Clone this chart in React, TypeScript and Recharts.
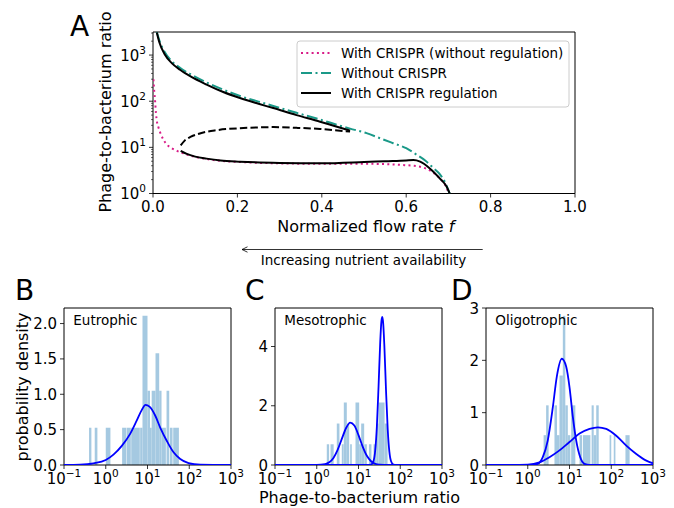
import React from "react";
import { LineChart, Line, XAxis, YAxis, ReferenceArea } from "recharts";

const FONT = "'DejaVu Sans', sans-serif";
const BAR = "#a5c9e1";
const FIT = "#0000ff";
const PINK = "#d81b87";
const TEAL = "#1a9988";

// panel A
const flowTicks = [0, 0.2, 0.4, 0.6, 0.8, 1];
const ratioTicks = [1, 2, 3, 4, 5, 6, 7, 8, 9, 10, 20, 30, 40, 50, 60, 70, 80, 90, 100, 200, 300, 400, 500, 600, 700, 800, 900, 1000, 2000, 3000];
const ratioMax = 3162;

const withoutRegulation = [
  { f: 0.001, r: 300 }, { f: 0.003, r: 160 }, { f: 0.005, r: 100 }, { f: 0.007, r: 55 }, { f: 0.009, r: 38 },
  { f: 0.013, r: 27 }, { f: 0.017, r: 21 }, { f: 0.024, r: 15 }, { f: 0.033, r: 11.5 }, { f: 0.044, r: 9.6 },
  { f: 0.058, r: 8.3 }, { f: 0.072, r: 7.4 }, { f: 0.1, r: 6.2 }, { f: 0.127, r: 5.6 }, { f: 0.16, r: 5.1 },
  { f: 0.206, r: 4.8 }, { f: 0.3, r: 4.5 }, { f: 0.4, r: 4.4 }, { f: 0.5, r: 4.4 }, { f: 0.56, r: 4.3 },
  { f: 0.6, r: 4.1 }, { f: 0.617, r: 4.0 }, { f: 0.633, r: 3.8 }, { f: 0.649, r: 3.4 }, { f: 0.665, r: 2.8 },
  { f: 0.68, r: 2.1 }, { f: 0.693, r: 1.5 }, { f: 0.701, r: 1 },
];

const withoutCrispr = [
  { f: 0.009, r: 3162 }, { f: 0.015, r: 2100 }, { f: 0.028, r: 1150 }, { f: 0.045, r: 730 }, { f: 0.064, r: 530 },
  { f: 0.09, r: 380 }, { f: 0.127, r: 255 }, { f: 0.165, r: 180 }, { f: 0.206, r: 130 }, { f: 0.25, r: 98 },
  { f: 0.285, r: 79 }, { f: 0.34, r: 56 }, { f: 0.396, r: 40 }, { f: 0.43, r: 32 }, { f: 0.467, r: 25.5 },
  { f: 0.506, r: 20.3 }, { f: 0.54, r: 15.5 }, { f: 0.569, r: 12.3 }, { f: 0.6, r: 9.6 }, { f: 0.625, r: 6.9 },
  { f: 0.645, r: 5.2 }, { f: 0.664, r: 3.6 }, { f: 0.68, r: 2.6 }, { f: 0.694, r: 1.6 }, { f: 0.703, r: 1 },
];

const regulationUpper = [
  { f: 0.009, r: 3100 }, { f: 0.015, r: 1900 }, { f: 0.028, r: 1030 }, { f: 0.045, r: 660 }, { f: 0.064, r: 480 },
  { f: 0.09, r: 340 }, { f: 0.127, r: 229 }, { f: 0.165, r: 160 }, { f: 0.206, r: 117 }, { f: 0.25, r: 88 },
  { f: 0.285, r: 71 }, { f: 0.34, r: 50 }, { f: 0.396, r: 36 }, { f: 0.43, r: 29 }, { f: 0.467, r: 23 },
];

const regulationLower = [
  { f: 0.0656, r: 8.4 }, { f: 0.08, r: 7.2 }, { f: 0.1, r: 6.3 }, { f: 0.127, r: 5.7 }, { f: 0.16, r: 5.2 },
  { f: 0.206, r: 4.9 }, { f: 0.3, r: 4.6 }, { f: 0.4, r: 4.5 }, { f: 0.5, r: 4.8 }, { f: 0.55, r: 5.0 },
  { f: 0.6, r: 5.2 }, { f: 0.617, r: 5.3 }, { f: 0.633, r: 4.9 }, { f: 0.656, r: 3.5 }, { f: 0.68, r: 2.1 },
  { f: 0.696, r: 1.4 }, { f: 0.703, r: 1 },
];

const regulationUnstable = [
  { f: 0.0656, r: 11 }, { f: 0.075, r: 14 }, { f: 0.09, r: 17 }, { f: 0.111, r: 20 }, { f: 0.15, r: 23.5 },
  { f: 0.206, r: 26 }, { f: 0.25, r: 27 }, { f: 0.285, r: 27.5 }, { f: 0.34, r: 26.5 }, { f: 0.396, r: 25 },
  { f: 0.43, r: 23.5 }, { f: 0.467, r: 22 },
];

// panels B-D, x in log10(phage-to-bacterium ratio)
const logTicks = [-1, 0, 1, 2, 3];

const eutroBins = [
  [-0.40, -0.344, 0.527], [-0.264, -0.2, 0.527], [0.0, 0.112, 0.527], [0.392, 0.49, 0.527], [0.5, 0.6, 0.527],
  [0.61, 0.816, 0.527], [0.824, 0.88, 0.527], [0.88, 1.0, 2.11], [1.0, 1.06, 1.05], [1.06, 1.1, 0.527],
  [1.1, 1.192, 1.05], [1.192, 1.28, 1.58], [1.28, 1.336, 1.05], [1.336, 1.44, 0.527], [1.456, 1.52, 1.05],
  [1.536, 1.6, 0.527], [1.616, 1.752, 0.527],
];
const eutroFit = [
  { lx: -1, d: 0 }, { lx: -0.616, d: 0.005 }, { lx: -0.296, d: 0.024 }, { lx: 0, d: 0.07 }, { lx: 0.184, d: 0.146 },
  { lx: 0.384, d: 0.27 }, { lx: 0.584, d: 0.44 }, { lx: 0.744, d: 0.63 }, { lx: 0.864, d: 0.78 }, { lx: 0.952, d: 0.85 },
  { lx: 1.048, d: 0.825 }, { lx: 1.184, d: 0.7 }, { lx: 1.304, d: 0.53 }, { lx: 1.464, d: 0.34 }, { lx: 1.624, d: 0.18 },
  { lx: 1.784, d: 0.085 }, { lx: 1.984, d: 0.028 }, { lx: 2.264, d: 0.005 }, { lx: 3, d: 0 },
];

const mesoBins = [
  [0.24, 0.296, 0.7], [0.33, 0.405, 0.7], [0.48, 0.544, 1.4], [0.6, 0.645, 0.7], [0.648, 0.72, 2.11],
  [0.72, 0.776, 1.4], [0.8, 0.84, 0.7], [0.928, 1.016, 2.11], [1.016, 1.064, 0.7], [1.064, 1.136, 1.4],
  [1.14, 1.2, 0.7], [1.25, 1.31, 0.7], [1.36, 1.424, 0.7], [1.424, 1.48, 1.4], [1.48, 1.624, 2.11],
  [1.624, 1.696, 1.4],
];
const mesoFitLow = [
  { lx: -1, d: 0 }, { lx: -0.5, d: 0 }, { lx: 0, d: 0.002 }, { lx: 0.2, d: 0.028 }, { lx: 0.3, d: 0.09 },
  { lx: 0.4, d: 0.24 }, { lx: 0.5, d: 0.51 }, { lx: 0.6, d: 0.88 }, { lx: 0.7, d: 1.24 }, { lx: 0.8, d: 1.43 },
  { lx: 0.9, d: 1.33 }, { lx: 1.0, d: 1.01 }, { lx: 1.1, d: 0.62 }, { lx: 1.2, d: 0.31 }, { lx: 1.3, d: 0.127 },
  { lx: 1.4, d: 0.042 }, { lx: 1.5, d: 0.011 }, { lx: 1.7, d: 0 }, { lx: 3, d: 0 },
];
const mesoFitHigh = [
  { lx: -1, d: 0 }, { lx: 1.2, d: 0 }, { lx: 1.3, d: 0.014 }, { lx: 1.36, d: 0.14 }, { lx: 1.4, d: 0.49 },
  { lx: 1.44, d: 1.3 }, { lx: 1.48, d: 2.64 }, { lx: 1.52, d: 4.14 }, { lx: 1.55, d: 4.87 }, { lx: 1.57, d: 5.0 },
  { lx: 1.59, d: 4.81 }, { lx: 1.62, d: 4.0 }, { lx: 1.66, d: 2.49 }, { lx: 1.7, d: 1.2 }, { lx: 1.74, d: 0.44 },
  { lx: 1.78, d: 0.125 }, { lx: 1.84, d: 0.011 }, { lx: 1.9, d: 0 }, { lx: 3, d: 0 },
];

const oligoBins = [
  [0.38, 0.44, 0.57], [0.44, 0.5, 1.14], [0.64, 0.7, 1.14], [0.7, 0.76, 0.57], [0.76, 0.84, 1.71],
  [0.84, 0.9, 2.85], [0.9, 0.96, 1.14], [0.96, 1.02, 0.57], [1.04, 1.14, 1.14], [1.24, 1.3, 0.57],
  [1.32, 1.5, 0.57], [1.53, 1.58, 1.14], [1.58, 1.64, 0.57], [1.64, 1.7, 1.14], [1.96, 2.0, 0.57],
  [2.06, 2.1, 0.57], [2.34, 2.44, 0.57],
];
const oligoFitLow = [
  { lx: -1, d: 0 }, { lx: 0.1, d: 0.001 }, { lx: 0.24, d: 0.02 }, { lx: 0.36, d: 0.15 }, { lx: 0.48, d: 0.47 },
  { lx: 0.6, d: 1.1 }, { lx: 0.696, d: 1.69 }, { lx: 0.816, d: 2.03 }, { lx: 0.92, d: 1.88 }, { lx: 1.0, d: 1.49 },
  { lx: 1.08, d: 0.92 }, { lx: 1.16, d: 0.47 }, { lx: 1.256, d: 0.15 }, { lx: 1.36, d: 0.02 }, { lx: 1.48, d: 0 },
  { lx: 3, d: 0 },
];
const oligoFitHigh = [
  { lx: -1, d: 0 }, { lx: -0.4, d: 0 }, { lx: 0, d: 0.006 }, { lx: 0.28, d: 0.05 }, { lx: 0.52, d: 0.15 },
  { lx: 0.76, d: 0.28 }, { lx: 1.0, d: 0.44 }, { lx: 1.24, d: 0.6 }, { lx: 1.48, d: 0.69 }, { lx: 1.68, d: 0.72 },
  { lx: 1.88, d: 0.69 }, { lx: 2.12, d: 0.56 }, { lx: 2.36, d: 0.37 }, { lx: 2.6, d: 0.21 }, { lx: 2.84, d: 0.083 },
  { lx: 3, d: 0.032 },
];

function Pow10({ x, y, exp, anchor }: any) {
  const e = exp < 0 ? "\u2212" + -exp : String(exp);
  return (
    <text x={x} y={y} textAnchor={anchor} fontSize={15} fontFamily={FONT} fill="#000">
      10<tspan dy={-7} fontSize={10.5}>{e}</tspan>
    </text>
  );
}

function LogYTick(props: any) {
  const { x, y, payload } = props;
  const l = Math.log10(payload.value);
  const exp = Math.round(l);
  if (Math.abs(l - exp) > 1e-6) {
    return <line x1={x - 2} x2={x} y1={y} y2={y} stroke="#000" strokeWidth={0.6} />;
  }
  return (
    <g>
      <line x1={x - 4} x2={x} y1={y} y2={y} stroke="#000" strokeWidth={0.8} />
      <Pow10 x={x - 7} y={y + 5.5} exp={exp} anchor="end" />
    </g>
  );
}

function PowXTick(props: any) {
  const { x, y, payload } = props;
  return (
    <g>
      <line x1={x} x2={x} y1={y} y2={y + 4} stroke="#000" strokeWidth={0.8} />
      <Pow10 x={x} y={y + 19} exp={payload.value} anchor="middle" />
    </g>
  );
}

function NumXTick(props: any) {
  const { x, y, payload } = props;
  return (
    <g>
      <line x1={x} x2={x} y1={y} y2={y + 4} stroke="#000" strokeWidth={0.8} />
      <text x={x} y={y + 18.5} textAnchor="middle" fontSize={15} fontFamily={FONT} fill="#000">
        {payload.value.toFixed(1)}
      </text>
    </g>
  );
}

function NumYTick(props: any) {
  const { x, y, payload, digits } = props;
  return (
    <g>
      <line x1={x - 4} x2={x} y1={y} y2={y} stroke="#000" strokeWidth={0.8} />
      <text x={x - 7} y={y + 5.5} textAnchor="end" fontSize={15} fontFamily={FONT} fill="#000">
        {payload.value.toFixed(digits)}
      </text>
    </g>
  );
}

function FlowPanel() {
  const left = 153, top = 32, w = 422, h = 161.5;
  return (
    <div style={{ position: "absolute", left: left - 60, top: top - 10 }}>
      <LineChart width={w + 90} height={h + 50} margin={{ top: 10, right: 30, left: 0, bottom: 0 }}>
        <XAxis type="number" dataKey="f" domain={[0, 1]} ticks={flowTicks} interval={0} height={40}
          axisLine={false} tickLine={false} tickSize={0} tickMargin={0} tick={<NumXTick />} allowDataOverflow />
        <YAxis type="number" scale="log" domain={[1, ratioMax]} ticks={ratioTicks} interval={0} width={60}
          axisLine={false} tickLine={false} tickSize={0} tickMargin={0} tick={<LogYTick />} allowDataOverflow />
        <ReferenceArea x1={0} x2={1} y1={1} y2={ratioMax} fill="none" stroke="#000" strokeWidth={1} />
        <Line data={withoutRegulation} dataKey="r" type="monotone" stroke={PINK} strokeWidth={2}
          strokeDasharray="2 3.3" dot={false} isAnimationActive={false} />
        <Line data={withoutCrispr} dataKey="r" type="monotone" stroke={TEAL} strokeWidth={2}
          strokeDasharray="11 3.5 2 3.5" dot={false} isAnimationActive={false} />
        <Line data={regulationUpper} dataKey="r" type="monotone" stroke="#000" strokeWidth={2}
          dot={false} isAnimationActive={false} />
        <Line data={regulationLower} dataKey="r" type="monotone" stroke="#000" strokeWidth={2}
          dot={false} isAnimationActive={false} />
        <Line data={regulationUnstable} dataKey="r" type="monotone" stroke="#000" strokeWidth={2}
          strokeDasharray="7.4 3.2" dot={false} isAnimationActive={false} />
      </LineChart>
    </div>
  );
}

function HistPanel({ left, yMax, yTicks, digits, bins, fits }: any) {
  const top = 307.5, w = 167, h = 157;
  return (
    <div style={{ position: "absolute", left: left - 60, top: top - 10 }}>
      <LineChart width={w + 80} height={h + 50} margin={{ top: 10, right: 20, left: 0, bottom: 0 }}>
        <XAxis type="number" dataKey="lx" domain={[-1, 3]} ticks={logTicks} interval={0} height={40}
          axisLine={false} tickLine={false} tickSize={0} tickMargin={0} tick={<PowXTick />} allowDataOverflow />
        <YAxis type="number" domain={[0, yMax]} ticks={yTicks} interval={0} width={60}
          axisLine={false} tickLine={false} tickSize={0} tickMargin={0} tick={<NumYTick digits={digits} />} allowDataOverflow />
        {bins.map((b: number[], i: number) => (
          <ReferenceArea key={i} x1={b[0]} x2={b[1]} y1={0} y2={b[2]} fill={BAR} fillOpacity={1} stroke="none" />
        ))}
        <ReferenceArea x1={-1} x2={3} y1={0} y2={yMax} fill="none" stroke="#000" strokeWidth={1} />
        {fits.map((d: any[], i: number) => (
          <Line key={i} data={d} dataKey="d" type="monotone" stroke={FIT} strokeWidth={1.8}
            dot={false} isAnimationActive={false} />
        ))}
      </LineChart>
    </div>
  );
}

function Overlay() {
  const t = { fontFamily: FONT, fill: "#000" };
  return (
    <svg width={674} height={508} style={{ position: "absolute", left: 0, top: 0, pointerEvents: "none" }}>
      <text x={70} y={36} fontSize={28} {...t}>A</text>
      <text x={15} y={300} fontSize={28} {...t}>B</text>
      <text x={245} y={300} fontSize={28} {...t}>C</text>
      <text x={451} y={300} fontSize={28} {...t}>D</text>

      <text transform="translate(111,112) rotate(-90)" textAnchor="middle" fontSize={16} {...t}>Phage-to-bacterium ratio</text>
      <text x={365.8} y={231.7} textAnchor="middle" fontSize={16} {...t}>
        Normalized flow rate <tspan fontStyle="italic">f</tspan>
      </text>

      <line x1={482.7} x2={242} y1={249.5} y2={249.5} stroke="#000" strokeWidth={0.8} />
      <polyline points="247.5,246.8 242,249.5 247.5,252.2" fill="none" stroke="#000" strokeWidth={0.8} />
      <text x={363.5} y={264.5} textAnchor="middle" fontSize={13.5} {...t}>Increasing nutrient availability</text>

      <g>
        <rect x={297} y={41} width={272} height={66} rx={3} fill="#fff" fillOpacity={0.8} stroke="#cccccc" strokeWidth={1} />
        <line x1={301} x2={331} y1={53} y2={53} stroke={PINK} strokeWidth={2} strokeDasharray="2 3.3" />
        <line x1={301} x2={331} y1={73} y2={73} stroke={TEAL} strokeWidth={2} strokeDasharray="11 3.5 2 3.5" />
        <line x1={301} x2={331} y1={93} y2={93} stroke="#000" strokeWidth={2} />
        <text x={341} y={58} fontSize={13.5} {...t}>With CRISPR (without regulation)</text>
        <text x={341} y={78} fontSize={13.5} {...t}>Without CRISPR</text>
        <text x={341} y={98} fontSize={13.5} {...t}>With CRISPR regulation</text>
      </g>

      <text transform="translate(27.5,387) rotate(-90)" textAnchor="middle" fontSize={16} {...t}>probability density</text>
      <text x={359.5} y={503.3} textAnchor="middle" fontSize={16} {...t}>Phage-to-bacterium ratio</text>

      <text x={73.3} y={324.5} fontSize={13.5} {...t}>Eutrophic</text>
      <text x={284.3} y={324.5} fontSize={13.5} {...t}>Mesotrophic</text>
      <text x={495.3} y={324.5} fontSize={13.5} {...t}>Oligotrophic</text>
    </svg>
  );
}

export default function App() {
  return (
    <div style={{ position: "absolute", left: 0, top: 0, width: 674, height: 508, background: "#fff" }}>
      <FlowPanel />
      <HistPanel left={64} yMax={2.22} yTicks={[0, 0.5, 1, 1.5, 2]} digits={1} bins={eutroBins} fits={[eutroFit]} />
      <HistPanel left={275.3} yMax={5.3} yTicks={[0, 2, 4]} digits={0} bins={mesoBins} fits={[mesoFitLow, mesoFitHigh]} />
      <HistPanel left={486.3} yMax={3} yTicks={[0, 1, 2, 3]} digits={0} bins={oligoBins} fits={[oligoFitLow, oligoFitHigh]} />
      <Overlay />
    </div>
  );
}
